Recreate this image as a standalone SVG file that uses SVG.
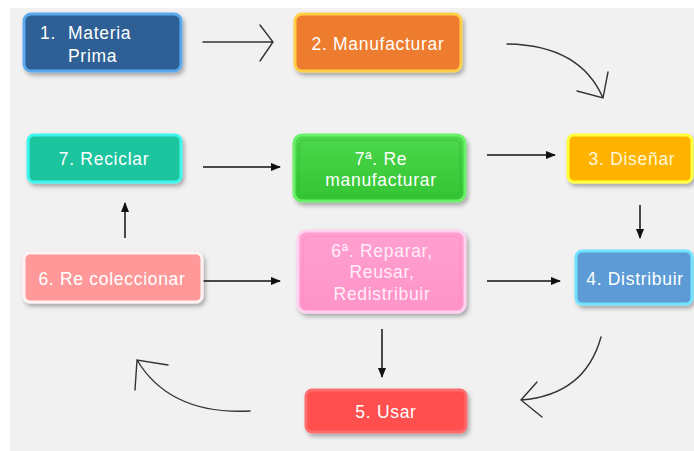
<svg xmlns="http://www.w3.org/2000/svg" width="694" height="451" viewBox="0 0 694 451">
<defs>
<filter id="sh" x="-10%" y="-20%" width="125%" height="150%">
<feDropShadow dx="2" dy="3" stdDeviation="2" flood-color="#000" flood-opacity="0.3"/>
</filter>
<marker id="ah" markerWidth="10" markerHeight="8" refX="9" refY="4" orient="auto" markerUnits="userSpaceOnUse">
<path d="M0,0 L10,4 L0,8 Z" fill="#111"/>
</marker>
<linearGradient id="g7a" x1="0" y1="0" x2="0" y2="1">
<stop offset="0" stop-color="#4bd84b"/><stop offset="1" stop-color="#33c433"/>
</linearGradient>
<linearGradient id="g6a" x1="0" y1="0" x2="0" y2="1">
<stop offset="0" stop-color="#ff9fd0"/><stop offset="1" stop-color="#ff94c8"/>
</linearGradient>
</defs>
<style>
.t{font-family:"Liberation Sans",Arial,sans-serif;font-size:17.5px;letter-spacing:0.7px;fill:#fff;text-anchor:middle}
.tl{font-family:"Liberation Sans",Arial,sans-serif;font-size:17.5px;letter-spacing:0.7px;fill:#fff}
.box{stroke-width:3;filter:url(#sh)}
.c{fill:none;stroke:#111;stroke-width:1.5}
.h{fill:none;stroke:#333;stroke-width:1.4;stroke-linecap:round}
</style>
<rect x="0" y="0" width="694" height="451" fill="#fff"/>
<rect x="10" y="8" width="684" height="443" fill="#f1f1f1"/>

<g id="connectors">
<path class="h" d="M203,42 L273,42 M260,25 L273,42 L260,61"/>
<path class="h" d="M507,44 Q580,45 603,98 M608,72 L603,98 L577,91"/>
<path class="c" d="M203,167 L280,167" marker-end="url(#ah)"/>
<path class="c" d="M487,155 L555,155" marker-end="url(#ah)"/>
<path class="c" d="M640,205 L640,238" marker-end="url(#ah)"/>
<path class="c" d="M125,238 L125,203" marker-end="url(#ah)"/>
<path class="c" d="M203,281 L280,281" marker-end="url(#ah)"/>
<path class="c" d="M487,281 L560,281" marker-end="url(#ah)"/>
<path class="c" d="M382,329 L382,377" marker-end="url(#ah)"/>
<path class="h" d="M601,337 Q585,395 521,400 M537,382 L521,400 L542,417"/>
<path class="h" d="M250,411 Q170,415 137,360 M168,365 L137,360 L135,390"/>
</g>

<g id="n1">
<rect class="box" x="24" y="14" width="157" height="57" rx="7" fill="#2d5f95" stroke="#5aa9ee"/>
<text class="tl" x="40" y="39">1.</text>
<text class="tl" x="68" y="39">Materia</text>
<text class="tl" x="68" y="62">Prima</text>
</g>
<g id="n2">
<rect class="box" x="295" y="14" width="166" height="57" rx="7" fill="#ee7b2e" stroke="#ffd047"/>
<text class="t" x="378" y="50">2. Manufacturar</text>
</g>
<g id="n3">
<rect class="box" x="568" y="135" width="124" height="47" rx="6" fill="#ffb300" stroke="#ffff3a"/>
<text class="t" x="632" y="165" style="fill:#fff8d8">3. Diseñar</text>
</g>
<g id="n4">
<rect class="box" x="576" y="251" width="116" height="53" rx="6" fill="#5b9bd5" stroke="#70e4ff"/>
<text class="t" x="635" y="285">4. Distribuir</text>
</g>
<g id="n5">
<rect class="box" x="306" y="390" width="160" height="42" rx="6" fill="#ff5050" stroke="#ff6c6c"/>
<text class="t" x="386" y="418">5. Usar</text>
</g>
<g id="n6">
<rect class="box" x="24" y="253" width="178" height="49" rx="6" fill="#ff9999" stroke="#fff2f2"/>
<text class="t" x="112" y="285">6. Re coleccionar</text>
</g>
<g id="n6a">
<rect class="box" x="298" y="231" width="167" height="81" rx="8" fill="url(#g6a)" stroke="#ffd0f0"/>
<rect x="303" y="236" width="157" height="71" rx="6" fill="none" stroke="#ff88c0" stroke-width="1" opacity="0.6"/>
<text class="t" x="382" y="257" style="fill:#ffeef8">6ª. Reparar,</text>
<text class="t" x="382" y="278" style="fill:#ffeef8">Reusar,</text>
<text class="t" x="382" y="300" style="fill:#ffeef8">Redistribuir</text>
</g>
<g id="n7">
<rect class="box" x="28" y="135" width="153" height="47" rx="6" fill="#1ec59e" stroke="#3df6ee"/>
<text class="t" x="104" y="165">7. Reciclar</text>
</g>
<g id="n7a">
<rect class="box" x="294" y="135" width="171" height="66" rx="8" fill="url(#g7a)" stroke="#6cf06c"/>
<rect x="299" y="140" width="161" height="56" rx="6" fill="none" stroke="#2fb52f" stroke-width="1" opacity="0.6"/>
<text class="t" x="381" y="165">7ª. Re</text>
<text class="t" x="381" y="186">manufacturar</text>
</g>
</svg>
